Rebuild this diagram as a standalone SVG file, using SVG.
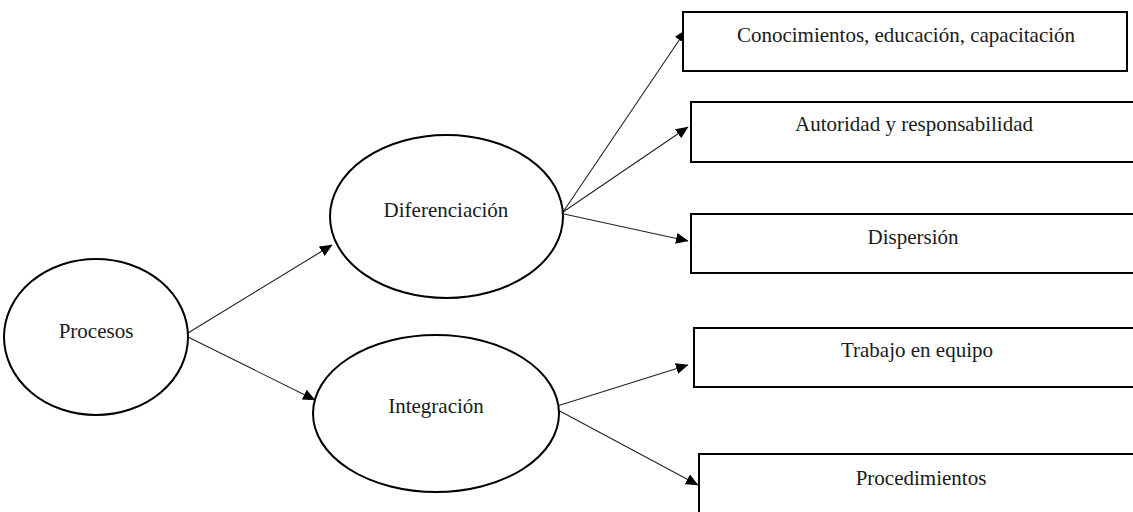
<svg xmlns="http://www.w3.org/2000/svg" width="1133" height="512" viewBox="0 0 1133 512">
  <style>
    .node { fill: #ffffff; stroke: #000000; stroke-width: 2; }
    .label { font-family: "Liberation Serif", "Times New Roman", serif; font-size: 21px; fill: #1a1a1a; text-anchor: middle; }
    .link { stroke: #222222; stroke-width: 1.1; fill: none; marker-end: url(#arrow); }
  </style>
  <defs>
    <marker id="arrow" markerUnits="userSpaceOnUse" markerWidth="13" markerHeight="11" refX="12" refY="5.5" orient="auto">
      <path d="M0,0 L12.5,5.5 L0,11 z" fill="#000000"/>
    </marker>
  </defs>
  <rect width="1133" height="512" fill="#ffffff"/>

  <!-- connectors -->
  <g id="connectors">
    <line class="link" x1="188" y1="333" x2="332" y2="245"/>
    <line class="link" x1="188" y1="337" x2="315" y2="400"/>
    <line class="link" x1="563" y1="212" x2="686" y2="30"/>
    <line class="link" x1="563" y1="212" x2="688" y2="127"/>
    <line class="link" x1="564" y1="214" x2="688" y2="241"/>
    <line class="link" x1="554" y1="407" x2="688" y2="365"/>
    <line class="link" x1="556" y1="409" x2="698" y2="485"/>
  </g>

  <!-- ellipses -->
  <g id="procesos">
    <ellipse class="node" cx="96" cy="337" rx="92" ry="78"/>
    <text class="label" x="96" y="338">Procesos</text>
  </g>
  <g id="diferenciacion">
    <ellipse class="node" cx="446.5" cy="216.5" rx="116.5" ry="81.5"/>
    <text class="label" x="446" y="217">Diferenciación</text>
  </g>
  <g id="integracion">
    <ellipse class="node" cx="436" cy="413.5" rx="123" ry="78.5"/>
    <text class="label" x="436" y="413">Integración</text>
  </g>

  <!-- boxes -->
  <g id="conocimientos">
    <rect class="node" x="683" y="12" width="444" height="59"/>
    <text class="label" x="906" y="42">Conocimientos, educación, capacitación</text>
  </g>
  <g id="autoridad">
    <rect class="node" x="691" y="102" width="446" height="60"/>
    <text class="label" x="914" y="131">Autoridad y responsabilidad</text>
  </g>
  <g id="dispersion">
    <rect class="node" x="691" y="214" width="446" height="59"/>
    <text class="label" x="913" y="244">Dispersión</text>
  </g>
  <g id="trabajo">
    <rect class="node" x="694" y="328" width="446" height="59"/>
    <text class="label" x="917" y="357">Trabajo en equipo</text>
  </g>
  <g id="procedimientos">
    <rect class="node" x="699" y="454" width="446" height="70"/>
    <text class="label" x="921" y="485">Procedimientos</text>
  </g>
</svg>
